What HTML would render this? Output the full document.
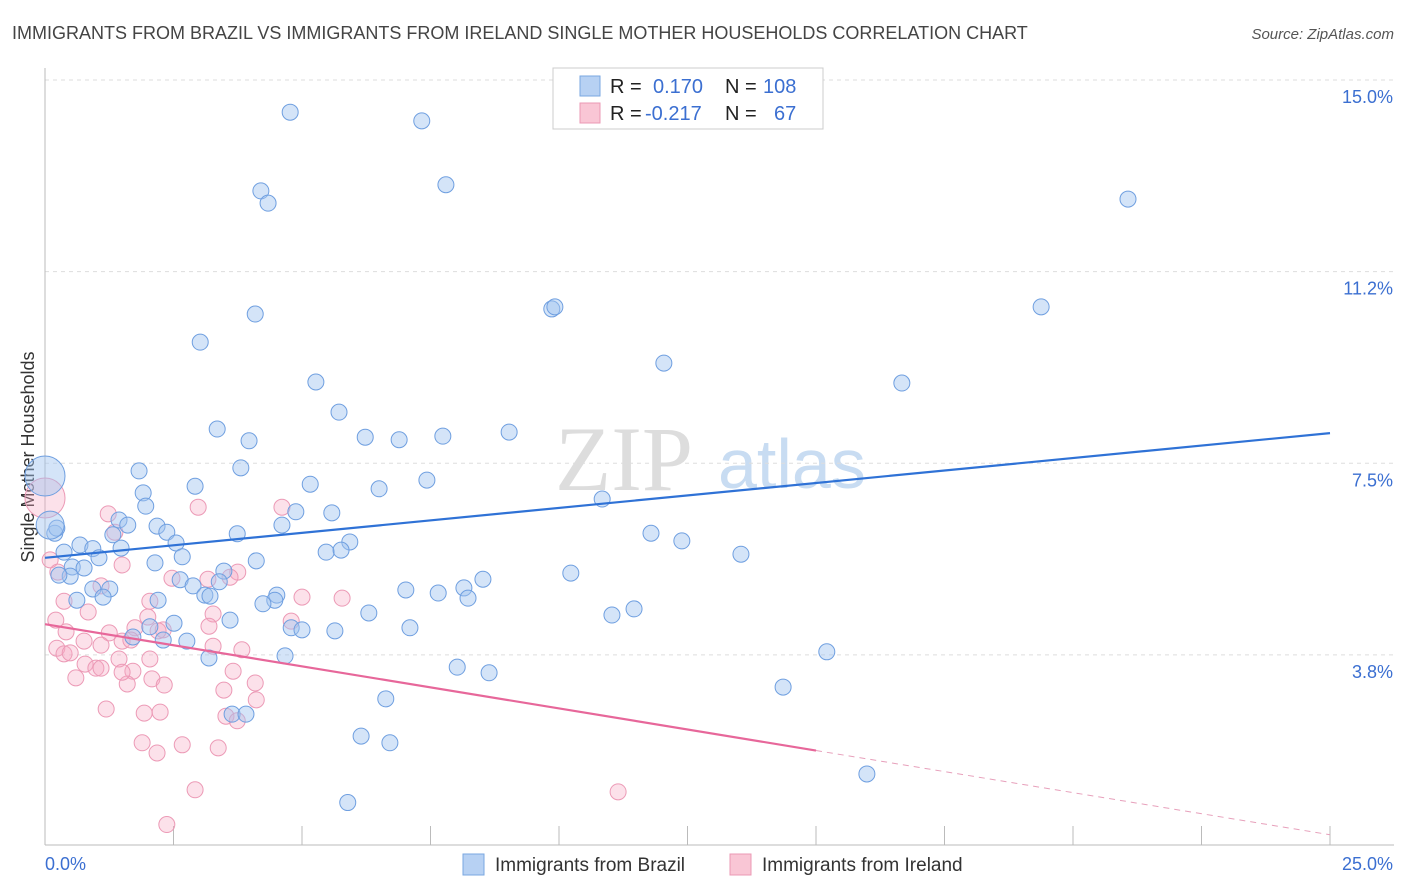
<!DOCTYPE html>
<html><head><meta charset="utf-8"><style>
body{margin:0;background:#fff;font-family:"Liberation Sans",sans-serif;}
svg{display:block}
</style></head><body>
<svg id="chart" width="1406" height="892" viewBox="0 0 1406 892" xmlns="http://www.w3.org/2000/svg">
<text x="12" y="39" font-size="18" fill="#444">IMMIGRANTS FROM BRAZIL VS IMMIGRANTS FROM IRELAND SINGLE MOTHER HOUSEHOLDS CORRELATION CHART</text>
<text x="1394" y="39" font-size="15" font-style="italic" fill="#555" text-anchor="end">Source: ZipAtlas.com</text>
<g>
<text x="555" y="490" font-family="Liberation Serif,serif" font-size="92" fill="#ddd">ZIP</text>
<text x="718" y="488" font-size="70" fill="#c8dcf2">atlas</text>
</g>
<g id="grid"></g>
<g id="axes"></g>
<text transform="translate(34,457) rotate(-90)" font-size="18" fill="#333" text-anchor="middle">Single Mother Households</text>
<g id="pts"></g>
<g id="trends"></g>
<g>
<rect x="553" y="68" width="270" height="61" fill="#fff" stroke="#ccc"/>
<rect x="580" y="76" width="20" height="20" fill="#b7d1f3" stroke="#7aa7e0"/>
<rect x="580" y="103" width="20" height="20" fill="#f9c6d5" stroke="#eb98b4"/>
<text x="610" y="93" font-size="20" fill="#222">R = </text><text x="653" y="93" font-size="20" fill="#3b6fd1">0.170</text>
<text x="725" y="93" font-size="20" fill="#222">N =</text><text x="763" y="93" font-size="20" fill="#3b6fd1">108</text>
<text x="610" y="120" font-size="20" fill="#222">R = </text><text x="645" y="120" font-size="20" fill="#3b6fd1">-0.217</text>
<text x="725" y="120" font-size="20" fill="#222">N =</text><text x="774" y="120" font-size="20" fill="#3b6fd1">67</text>
</g>
<g>
<rect x="463" y="854" width="21" height="21" fill="#b7d1f3" stroke="#7aa7e0"/>
<text x="495" y="871" font-size="19" fill="#333">Immigrants from Brazil</text>
<rect x="730" y="854" width="21" height="21" fill="#f9c6d5" stroke="#eb98b4"/>
<text x="762" y="871" font-size="19" fill="#333">Immigrants from Ireland</text>
</g>
</svg>
<script>
const yTicks=[15.0,11.25,7.5,3.75];
const yTickLabels=["15.0%","11.2%","7.5%","3.8%"];
const xTickCount=10;
const xLabels=["0.0%","25.0%"];
const brazilX=[4.77,7.33,7.80,4.20,4.34,21.07,9.86,9.92,19.38,4.09,3.02,12.04,5.27,16.67,5.72,3.35,3.97,6.23,6.89,7.74,9.03,1.83,3.81,7.43,5.16,2.92,6.50,1.91,10.84,1.96,5.58,4.88,1.44,1.61,2.18,4.61,2.37,3.74,1.32,11.79,0.19,0.23,12.39,2.55,0.68,5.93,0.93,5.47,5.76,13.54,0.37,1.48,1.05,2.14,2.67,4.11,0.53,0.76,0.49,0.27,3.48,10.23,8.52,2.63,3.39,2.88,0.93,1.26,7.02,8.15,7.65,0.62,1.13,2.20,3.11,3.21,4.51,4.47,4.24,8.23,11.46,6.30,11.03,3.60,2.04,2.51,4.79,5.00,5.64,7.10,2.30,2.76,1.71,4.67,3.19,15.21,8.02,8.64,14.36,6.63,3.64,3.91,6.15,6.71,15.99,5.89,0,0.1];
const brazilY=[14.37,14.20,12.95,12.83,12.59,12.67,10.52,10.56,10.56,10.42,9.87,9.46,9.09,9.07,8.50,8.17,7.94,8.01,7.96,8.03,8.11,7.35,7.41,7.17,7.09,7.05,7.00,6.92,6.80,6.66,6.53,6.55,6.39,6.29,6.27,6.29,6.15,6.12,6.10,6.13,6.13,6.23,5.98,5.94,5.90,5.96,5.83,5.76,5.80,5.72,5.76,5.84,5.65,5.55,5.67,5.59,5.47,5.45,5.29,5.31,5.39,5.35,5.23,5.22,5.18,5.10,5.04,5.04,5.02,5.06,4.96,4.82,4.88,4.82,4.92,4.90,4.92,4.82,4.75,4.86,4.65,4.57,4.53,4.43,4.30,4.37,4.28,4.24,4.22,4.28,4.04,4.02,4.10,3.73,3.69,3.81,3.51,3.40,3.12,2.89,2.59,2.59,2.16,2.03,1.42,0.86,7.25,6.29];
const brazilSize=brazilX.map((v,i)=>i==brazilX.length-2?20:(i==brazilX.length-1?14:8));
const irelandX=[0,4.61,1.23,2.98,1.36,0.10,0.25,1.50,3.75,2.47,3.17,3.60,1.09,0.37,2.04,5.00,5.78,0.84,2.00,3.27,4.79,0.21,1.75,0.41,1.25,3.19,2.30,2.20,0.76,1.50,1.67,0.23,0.37,0.49,1.09,3.27,3.83,0.78,0.99,1.09,1.44,1.71,2.04,3.66,0.60,2.08,2.32,1.60,4.09,3.48,4.11,1.19,1.93,2.24,3.52,3.74,1.89,2.18,2.67,3.37,2.92,11.15,2.37,1.50];
const irelandY=[6.82,6.64,6.51,6.64,6.15,5.61,5.37,5.51,5.37,5.25,5.23,5.27,5.10,4.80,4.80,4.88,4.86,4.59,4.49,4.55,4.41,4.43,4.28,4.20,4.18,4.31,4.24,4.22,4.02,4.02,4.04,3.88,3.77,3.79,3.94,3.92,3.85,3.57,3.49,3.49,3.67,3.43,3.67,3.43,3.30,3.28,3.16,3.18,3.20,3.06,2.87,2.69,2.61,2.63,2.55,2.46,2.03,1.83,1.99,1.93,1.11,1.07,0.43,3.41];
const irelandSize=irelandX.map((v,i)=>i==0?20:8);
const brazilTrend=[5.65,8.09];   // y at x=0 and x=25
const irelandTrend=[4.35,0.23];  // y at x=0 and x=25
const irelandSolidEnd=15.0;

const NS="http://www.w3.org/2000/svg";
const X0=45,X1=1330,YTOP=80,PXPER=51.1,YB=845;
const sx=v=>X0+(X1-X0)*v/25;
const sy=v=>YTOP+(15-v)*PXPER;
function mk(tag,attrs,parent){const e=document.createElementNS(NS,tag);for(const k in attrs)e.setAttribute(k,attrs[k]);parent.appendChild(e);return e;}
const grid=document.getElementById('grid'),axes=document.getElementById('axes');
yTicks.forEach((t,i)=>{
  const l=mk('line',{x1:X0,x2:1394,y1:sy(t),y2:sy(t),stroke:'#ddd','stroke-dasharray':'4,4'},grid);
  
  
  const tx=mk('text',{x:1393,y:sy(t)+23,'font-size':18,fill:'#3b6fd1','text-anchor':'end'},axes);
  tx.textContent=yTickLabels[i];
  
  
});
mk('line',{x1:X0,x2:X0,y1:68,y2:YB,stroke:'#bbb'},axes);
mk('line',{x1:X0,x2:1394,y1:YB,y2:YB,stroke:'#bbb'},axes);
for(let i=1;i<=xTickCount;i++){const tk=mk('line',{x1:sx(i*2.5),x2:sx(i*2.5),y1:826,y2:YB,stroke:'#bbb'},axes);
  
  }
const xl0=mk('text',{x:45,y:870,'font-size':18,fill:'#3b6fd1'},axes);xl0.textContent=xLabels[0];


const xl1=mk('text',{x:1393,y:870,'font-size':18,fill:'#3b6fd1','text-anchor':'end'},axes);xl1.textContent=xLabels[1];


const pts=document.getElementById('pts');
irelandX.forEach((x,i)=>{const c=mk('circle',{cx:sx(x),cy:sy(irelandY[i]),r:irelandSize[i],fill:'rgba(245,170,195,0.35)',stroke:'#ec9ab6','stroke-width':1},pts);
  
  });
brazilX.forEach((x,i)=>{const c=mk('circle',{cx:sx(x),cy:sy(brazilY[i]),r:brazilSize[i],fill:'rgba(160,195,240,0.45)',stroke:'#6f9fe0','stroke-width':1},pts);
  
  });
const tr=document.getElementById('trends');
const bl=mk('line',{x1:sx(0),y1:sy(brazilTrend[0]),x2:sx(25),y2:sy(brazilTrend[1]),stroke:'#2f72d6','stroke-width':2.2},tr);


const iy=x=>irelandTrend[0]+(irelandTrend[1]-irelandTrend[0])*x/25;
const il=mk('line',{x1:sx(0),y1:sy(iy(0)),x2:sx(irelandSolidEnd),y2:sy(iy(irelandSolidEnd)),stroke:'#e7679a','stroke-width':2.2},tr);


const id=mk('line',{x1:sx(irelandSolidEnd),y1:sy(iy(irelandSolidEnd)),x2:sx(25),y2:sy(iy(25)),stroke:'#e7a0bb','stroke-width':1,'stroke-dasharray':'6,5'},tr);


</script>
</body></html>
